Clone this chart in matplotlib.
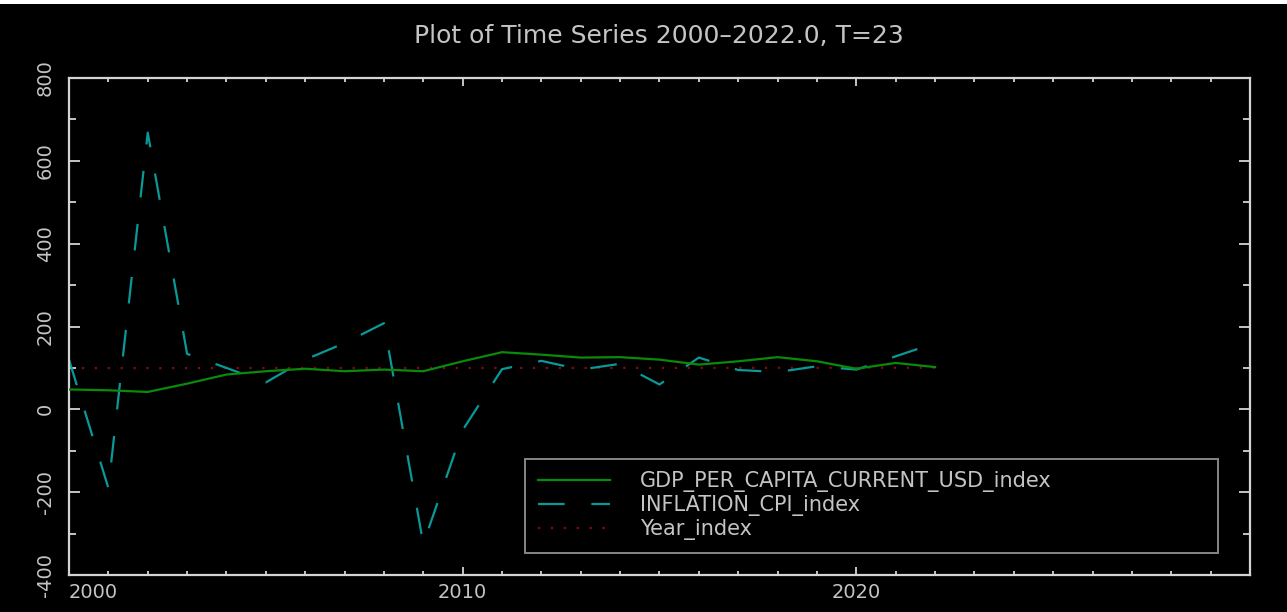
import matplotlib
matplotlib.use("Agg")
import matplotlib.pyplot as plt
from matplotlib.patches import Rectangle
from matplotlib.ticker import MultipleLocator, FixedLocator

# Annual series, 2000-2022
years = list(range(2000, 2023))
gdp_per_capita_index = [48, 46, 42, 62, 84, 92, 98, 92, 96, 92,
                        116, 138, 132, 125, 126, 120, 108, 116, 126, 116,
                        98, 112, 102]
inflation_cpi_index = [120, -190, 668, 134, 100, 65, 120, 160, 208, -325,
                       -50, 97, 117, 96, 110, 60, 125, 95, 90, 104,
                       96, 128, 160]
year_index = [99.4, 99.5, 99.5, 99.6, 99.6, 99.7, 99.7, 99.8, 99.8, 99.9,
              99.9, 100.0, 100.0, 100.0, 100.1, 100.1, 100.2, 100.2, 100.3, 100.3,
              100.4, 100.4, 100.5]

series_labels = ["GDP_PER_CAPITA_CURRENT_USD_index",
                 "INFLATION_CPI_index",
                 "Year_index"]
title_text = "Plot of Time Series 2000\u20132022.0, T=23"
x_tick_values = [2000, 2010, 2020]
x_tick_labels = ["2000", "2010", "2020"]
y_tick_values = [-400, -200, 0, 200, 400, 600, 800]
y_tick_labels = ["-400", "-200", "0", "200", "400", "600", "800"]

W, H = 1287, 612
fg = "#d4d4d4"
txt = "#c4c4c4"

plt.rcParams["font.family"] = ["DejaVu Sans"]
plt.rcParams["axes.unicode_minus"] = False

fig = plt.figure(figsize=(W / 100, H / 100), dpi=100, facecolor="black")
ax = fig.add_axes([69 / W, 1 - 575 / H, (1250 - 69) / W, (575 - 78) / H])
ax.set_facecolor("black")

# thin white band along the top edge
fig.patches.append(Rectangle((0, 1 - 4 / H), 1, 4 / H, transform=fig.transFigure,
                             facecolor="white", edgecolor="none", zorder=10))

ax.plot(years, gdp_per_capita_index, color="#0a8a0a", lw=1.6,
        label=series_labels[0], zorder=3)
ax.plot(years, inflation_cpi_index, color="#0a9898", lw=1.6,
        ls=(0, (12, 12)), label=series_labels[1], zorder=2)
ax.plot(years, year_index, color="#8a0a0a", lw=1.6,
        ls=(0, (1, 4.8)), label=series_labels[2], zorder=1)

ax.set_xlim(2000, 2030)
ax.set_ylim(-400, 800)

for s in ax.spines.values():
    s.set_color(fg)
    s.set_linewidth(1.6)

ax.xaxis.set_major_locator(FixedLocator(x_tick_values))
ax.set_xticklabels(x_tick_labels)
ax.xaxis.set_minor_locator(MultipleLocator(1))
ax.yaxis.set_major_locator(FixedLocator(y_tick_values))
ax.set_yticklabels(y_tick_labels)
ax.yaxis.set_minor_locator(MultipleLocator(100))

ax.tick_params(which="both", direction="in", colors=fg, top=True, right=True,
               labelcolor=txt, labelsize=14)
ax.tick_params(axis="x", which="major", length=6, width=1.3, pad=6)
ax.tick_params(axis="x", which="minor", length=3, width=1.3)
ax.tick_params(axis="y", which="major", length=8, width=1.3, pad=13)
ax.tick_params(axis="y", which="minor", length=5, width=1.3)
for lab in ax.get_yticklabels():
    lab.set_rotation(90)
    lab.set_rotation_mode("anchor")
    lab.set_ha("center")
    lab.set_va("baseline")
# first year label sits just right of the left edge
xl = ax.get_xticklabels()
xl[0].set_ha("left")

fig.text(659 / W, 1 - 36 / H, title_text, color=txt, fontsize=18,
         ha="center", va="center")

leg = ax.legend(loc="lower left",
                bbox_to_anchor=(525 / W, 1 - 553 / H, (1218 - 525) / W, 92 / H),
                bbox_transform=fig.transFigure, mode="expand", borderaxespad=0,
                frameon=True, fancybox=False, fontsize=15, handlelength=3.5,
                handletextpad=1.4, labelspacing=0.15, borderpad=0.6,
                labelcolor=txt)
leg.get_frame().set_facecolor("black")
leg.get_frame().set_edgecolor("#a8a8a8")
leg.get_frame().set_linewidth(1.4)

fig.savefig("out.png", dpi=100, facecolor="black")
